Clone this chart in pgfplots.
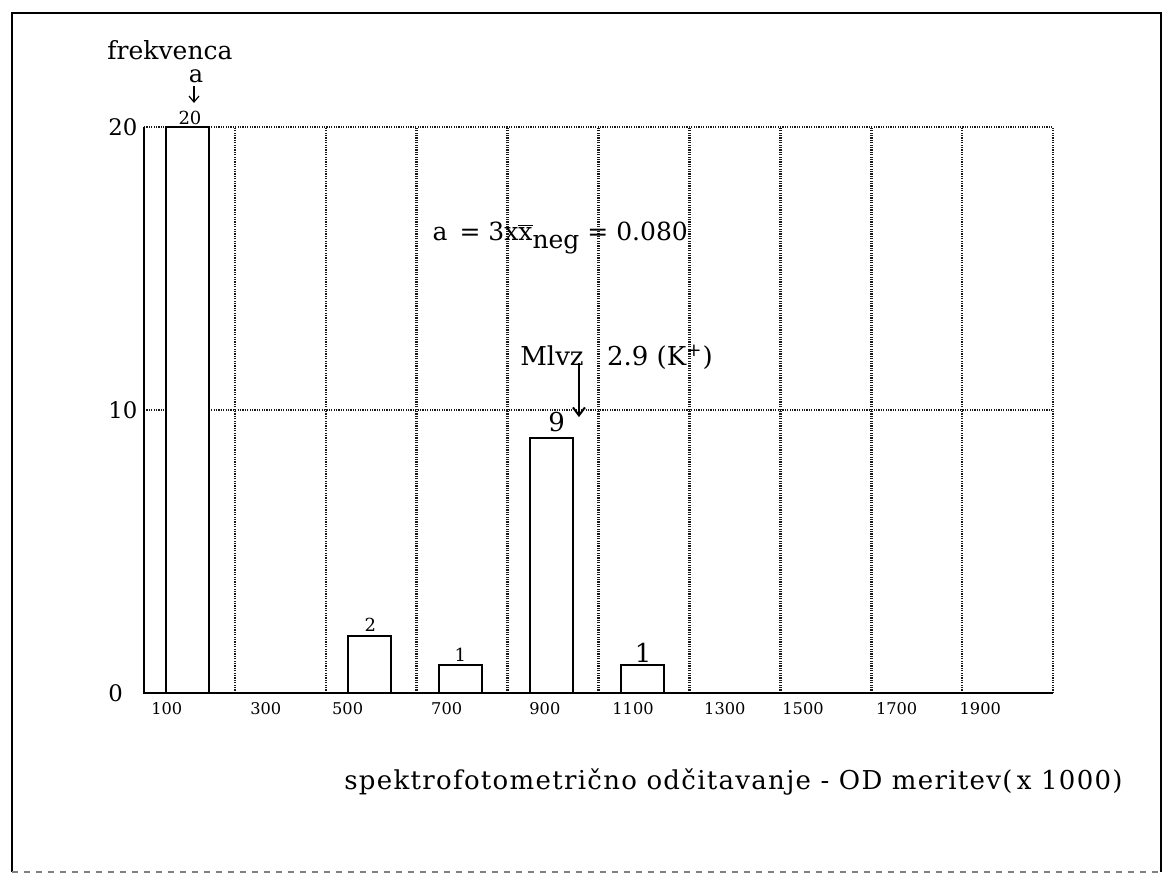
\documentclass[border=0pt]{standalone}
\usepackage{fontspec}
\setmainfont{DejaVu Serif}
\usepackage{pgfplots}
\pgfplotsset{compat=1.18}
\usepackage{pgfplotstable}
\usetikzlibrary{arrows.meta}

\pgfplotstableread{
x y
0.48 20
1.48 0
2.48 2
3.48 1
4.48 9
5.48 1
6.48 0
7.48 0
8.48 0
9.48 0
}\freq

\begin{document}
\begin{tikzpicture}[x=1pt,y=1pt]
\useasboundingbox (-72,-91) rectangle (509.5,346.5);
\begin{axis}[at={(0,0)}, anchor=south west, scale only axis,
  width=454.5pt, height=283pt,
  xmin=0, xmax=10, ymin=0, ymax=20,
  axis line style={draw=none},
  clip=false,
  ytick={0,10,20},
  yticklabel style={anchor=west, inner sep=0pt, xshift=-18pt, font=\fontsize{11.4}{13}\selectfont},
  xtick={0.25,1.34,2.24,3.33,4.41,5.38,6.39,7.25,8.28,9.2},
  xticklabels={100,300,500,700,900,1100,1300,1500,1700,1900},
  xticklabel style={font=\fontsize{8.1}{10}\selectfont, yshift=-1.3pt},
  minor xtick={0,1,...,10},
  xminorgrids=true, xmajorgrids=false, ymajorgrids=true,
  major grid style={black!90, line width=1.3pt, dash pattern=on 0.6pt off 0.6pt},
  minor grid style={black!90, line width=1.3pt, dash pattern=on 0.6pt off 0.6pt},
  major tick length=0pt, minor tick length=0pt,
  /pgf/number format/assume math mode=true,
  xlabel={spektrofotometrično odčitavanje - OD meritev(\,x 1000)},
  xlabel style={at={(axis description cs:0.6485,-0.157)}, anchor=center,
    font=\fontsize{13}{15}\selectfont\addfontfeature{LetterSpace=5}},
]
\addplot[ybar, bar width=21.5pt, bar shift=0pt, draw=black, fill=white, line width=1pt]
  table[x=x, y=y]{\freq};

\draw[line width=1.1pt] (rel axis cs:0,1) -- (rel axis cs:0,0) -- (rel axis cs:1,0);

% bar value labels
\node[font=\fontsize{9}{10}\selectfont] at (axis cs:0.506,20.32) {20};
\node[font=\fontsize{9}{10}\selectfont] at (axis cs:2.49,2.4) {2};
\node[font=\fontsize{9}{10}\selectfont] at (axis cs:3.48,1.34) {1};
\node[font=\fontsize{13}{15}\selectfont] at (axis cs:4.54,9.58) {9};
\node[font=\fontsize{13}{15}\selectfont] at (axis cs:5.49,1.41) {1};

% y label
\node[font=\fontsize{12.5}{14}\selectfont, inner sep=1pt] at (axis cs:0.286,22.72) {frekvenca};
\node[font=\fontsize{12}{14}\selectfont, inner sep=1pt] at (axis cs:0.572,21.78) {a};
\draw[line width=0.6pt, -{Straight Barb[length=3pt,width=5pt]}] (axis cs:0.55,21.45) -- (axis cs:0.55,20.85);

% annotations
\node[anchor=west, inner sep=0pt, font=\fontsize{12.5}{15}\selectfont] at (axis cs:3.17,16.08)
  {a\, = 3x$\overline{\hbox{x}}$\raisebox{-0.55ex}{neg} = 0.080};
\node[anchor=west, inner sep=0pt, font=\fontsize{13}{15}\selectfont] at (axis cs:4.136,11.87)
  {Mlvz\hspace{0.9em}2.9 (K\textsuperscript{+})};
\draw[line width=1pt, -{Straight Barb[length=4pt,width=6pt]}] (axis cs:4.785,11.66) -- (axis cs:4.785,9.75);
\end{axis}
% outer frame
\draw[line width=1.2pt] (-66,-89.5) -- (-66,340) -- (508.5,340) -- (508.5,-89.5);
\draw[line width=0.8pt, gray, dash pattern=on 3pt off 3pt] (-66,-89.5) -- (508.5,-89.5);
\end{tikzpicture}
\end{document}
